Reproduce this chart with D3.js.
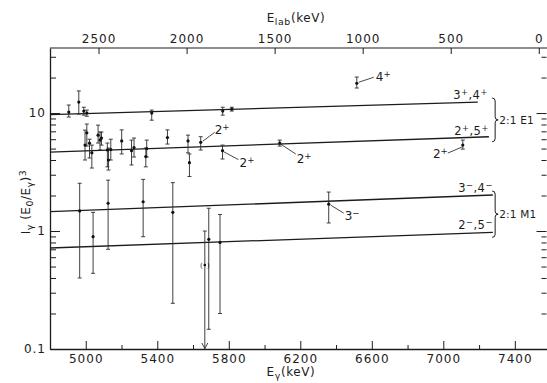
<!DOCTYPE html>
<html>
<head>
<meta charset="utf-8">
<script src="https://cdn.jsdelivr.net/npm/d3@7"></script>
<style>
  body { margin: 0; background: #fff; }
  svg text { font-family: "DejaVu Sans", sans-serif; fill: #1c1c1c; }
</style>
</head>
<body>
<svg id="chart" width="547" height="383"></svg>
<script>
// E1 (positive parity) lines: E_gamma (keV), value, error bar low/high
const e1Energy = [4905, 4961, 4989, 5006, 5369, 5766, 5817, 6516, 4996, 5006, 5021, 5034, 5069, 5080, 5088, 5121, 5127, 5140, 5201, 5256, 5270, 5336, 5341, 5457, 5572, 5580, 5643, 5765, 6085, 7109];
const e1Value  = [10.2, 12.4, 10.4, 10.0, 10.0, 10.4, 10.8, 17.9, 5.35, 6.8, 5.55, 4.6, 6.5, 5.9, 6.14, 4.86, 4.0, 4.9, 5.8, 4.8, 5.1, 4.28, 5.0, 6.2, 5.8, 3.8, 5.65, 4.8, 5.57, 5.35];
const e1Low    = [9.25, 9.8, 9.6, 9.4, 8.7, 9.6, 10.4, 16.3, 4.0, 5.25, 4.16, 3.42, 5.57, 4.86, 5.35, 3.5, 3.29, 4.0, 4.5, 3.63, 4.24, 3.5, 4.24, 5.46, 4.6, 2.9, 4.86, 4.08, 5.25, 4.95];
const e1High   = [11.7, 15.4, 11.2, 10.6, 10.6, 11.2, 11.2, 20.2, 7.17, 8.07, 6.0, 5.35, 7.9, 6.9, 6.9, 5.57, 5.05, 6.0, 7.2, 5.9, 6.14, 5.05, 5.9, 7.2, 6.5, 4.5, 6.3, 5.35, 5.9, 5.9];

// M1 (negative parity) lines
const m1Energy = [4966, 5041, 5125, 5321, 5487, 5688, 5751, 6359];
const m1Value  = [1.48, 0.895, 1.72, 1.77, 1.44, 0.85, 0.80, 1.69];
const m1Low    = [0.40, 0.438, 0.70, 0.895, 0.244, 0.147, 0.20, 1.17];
const m1High   = [2.54, 1.44, 2.7, 2.74, 2.57, 1.56, 1.38, 2.14];

// upper limit point (value in brackets, arrow down)
const limitEnergy = [5666];
const limitValue  = [0.515];
const limitHigh   = [1.0];

// 2:1 fit lines
const fitNames  = ["3^+,4^+", "2^+,5^+", "3^−,4^−", "2^−,5^−"];
const fitStartE = [4800, 4800, 4800, 4800];
const fitEndE   = [7193, 7255, 7277, 7277];
const fitStartV = [9.7, 4.67, 1.46, 0.718];
const fitEndV   = [12.4, 6.3, 2.02, 0.975];
const bracketNames = ["2:1 E1", "2:1 M1"];

// axes
const bottomTicks = [5000, 5400, 5800, 6200, 6600, 7000, 7400];
const bottomMinor = [5200, 5600, 6000, 6400, 6800, 7200];
const topTicks = [2500, 2000, 1500, 1000, 500, 0];
const yLabels = [0.1, 1, 10];
// E_gamma = Q - k * E_lab
const kinQ = 7534, kinK = 0.985;

const svg = d3.select('#chart');
const x = d3.scaleLinear().domain([4800, 7580]).range([50, 547]);
const y = d3.scaleLog().domain([0.1, 35.6]).range([349, 48]);
const xTop = d3.scaleLinear().domain([0, 2500]).range([x(kinQ), x(kinQ - kinK * 2500)]);
const ink = '#1c1c1c';

// text with ^x superscripts and _x / _{xx} subscripts
function rich(sel, str, size) {
  let i = 0;
  while (i < str.length) {
    const c = str[i];
    if (c === '^' || c === '_') {
      let s;
      if (str[i + 1] === '{') { const j = str.indexOf('}', i); s = str.slice(i + 2, j); i = j + 1; }
      else { s = str[i + 1]; i += 2; }
      sel.append('tspan')
        .attr('baseline-shift', c === '^' ? '45%' : '-30%')
        .attr('font-size', size * 0.72)
        .text(s);
    } else {
      let j = i;
      while (j < str.length && str[j] !== '^' && str[j] !== '_') j++;
      sel.append('tspan').text(str.slice(i, j));
      i = j;
    }
  }
  return sel;
}

function styleAxis(g) {
  g.selectAll('path, line').attr('stroke', ink);
  g.selectAll('text').attr('font-family', '"DejaVu Sans", sans-serif')
    .attr('font-size', 12).attr('letter-spacing', 1).attr('fill', ink);
}

// log ticks
const logMinor = [];
[0.1, 1, 10].forEach(p => d3.range(2, 10).forEach(d => {
  const v = +(d * p).toPrecision(2);
  if (v <= 35) logMinor.push(v);
}));

// bottom axis
svg.append('g').attr('transform', 'translate(0,349)')
  .call(d3.axisBottom(x).tickValues(bottomTicks).tickSizeInner(-8).tickSizeOuter(0).tickPadding(5).tickFormat(d3.format('d')))
  .call(styleAxis).call(g => g.select('.domain').attr('stroke-width', 1.3));
svg.append('g').attr('transform', 'translate(0,349)')
  .call(d3.axisBottom(x).tickValues(bottomMinor).tickSizeInner(-4).tickSizeOuter(0).tickFormat(''))
  .call(styleAxis).call(g => g.select('.domain').remove());

// top axis (E_lab)
svg.append('g').attr('transform', 'translate(0,48)')
  .call(d3.axisTop(xTop).tickValues(topTicks).tickSizeInner(-6).tickSizeOuter(0).tickPadding(5).tickFormat(d3.format('d')))
  .call(styleAxis).call(g => g.select('.domain').remove());
svg.append('line').attr('x1', x.range()[0]).attr('x2', x.range()[1])
  .attr('y1', 48).attr('y2', 48).attr('stroke', ink).attr('stroke-width', 1.2);

// left axis
svg.append('g').attr('transform', 'translate(50,0)')
  .call(d3.axisLeft(y).tickValues(yLabels).tickSizeInner(-10).tickSizeOuter(0).tickPadding(4)
    .tickFormat(d => d < 1 ? '0.1' : String(d)))
  .call(styleAxis).call(g => g.select('.domain').attr('stroke-width', 1.3));
svg.append('g').attr('transform', 'translate(50,0)')
  .call(d3.axisLeft(y).tickValues(logMinor).tickSizeInner(-6).tickSizeOuter(0).tickFormat(''))
  .call(styleAxis).call(g => g.select('.domain').remove());

// right side ticks
svg.append('g').attr('transform', 'translate(546.5,0)')
  .call(d3.axisRight(y).tickValues([1, 10]).tickSizeInner(-10).tickSizeOuter(0).tickFormat(''))
  .call(styleAxis).call(g => g.select('.domain').remove());
svg.append('g').attr('transform', 'translate(546.5,0)')
  .call(d3.axisRight(y).tickValues(logMinor.filter(v => v >= 0.2)).tickSizeInner(-5).tickSizeOuter(0).tickFormat(''))
  .call(styleAxis).call(g => g.select('.domain').remove());

// axis titles
rich(svg.append('text').attr('x', 296).attr('y', 22).attr('text-anchor', 'middle')
  .attr('font-size', 12).attr('letter-spacing', 0.6), 'E_{lab}(keV)', 13);
rich(svg.append('text').attr('x', 291).attr('y', 376).attr('text-anchor', 'middle')
  .attr('font-size', 12).attr('letter-spacing', 0.6), 'E_γ(keV)', 13);
rich(svg.append('text').attr('transform', 'translate(30,202) rotate(-90)').attr('text-anchor', 'middle')
  .attr('font-size', 12).attr('letter-spacing', 0.5), 'I_γ (E_0/E_γ)^3', 13);

// fit lines
const fits = fitNames.map((n, i) => ({ n, e0: fitStartE[i], e1: fitEndE[i], v0: fitStartV[i], v1: fitEndV[i] }));
svg.append('g').selectAll('line').data(fits).join('line')
  .attr('x1', d => x(d.e0)).attr('y1', d => y(d.v0))
  .attr('x2', d => x(d.e1)).attr('y2', d => y(d.v1))
  .attr('stroke', ink).attr('stroke-width', 1.3);

const fitLabelDx = [10, 0, 0, 0];
const fitLabelDy = [-3, -2, -3, -3];
fits.forEach((d, i) => {
  rich(svg.append('text').attr('x', x(d.e1) + fitLabelDx[i]).attr('y', y(d.v1) + fitLabelDy[i])
    .attr('text-anchor', 'end').attr('font-size', 11.5).attr('letter-spacing', 0.5), d.n, 11.5);
});

// brackets
[[0, 1], [2, 3]].forEach((pair, b) => {
  const a = fits[pair[0]], c = fits[pair[1]];
  const bx = x(7290);
  const top = y(a.v1) - 4, bot = y(c.v1) + 5, mid = (top + bot) / 2;
  svg.append('path')
    .attr('d', `M${bx - 3},${top} Q${bx},${top} ${bx},${top + 3} L${bx},${mid - 3} Q${bx},${mid} ${bx + 3},${mid} Q${bx},${mid} ${bx},${mid + 3} L${bx},${bot - 3} Q${bx},${bot} ${bx - 3},${bot}`)
    .attr('fill', 'none').attr('stroke', ink).attr('stroke-width', 1);
  svg.append('text').attr('x', bx + 4).attr('y', mid + 4).attr('font-size', 10.5)
    .attr('letter-spacing', 0.2).text(bracketNames[b]);
});

// data points with error bars
const pts = e1Energy.map((e, i) => ({ e, v: e1Value[i], lo: e1Low[i], hi: e1High[i] }))
  .concat(m1Energy.map((e, i) => ({ e, v: m1Value[i], lo: m1Low[i], hi: m1High[i] })));
const pg = svg.append('g').attr('stroke', '#2a2a2a').attr('stroke-width', 0.9);
pts.forEach(d => {
  const px = x(d.e);
  pg.append('line').attr('x1', px).attr('x2', px).attr('y1', y(d.lo)).attr('y2', y(d.hi));
  pg.append('line').attr('x1', px - 2).attr('x2', px + 2).attr('y1', y(d.lo)).attr('y2', y(d.lo));
  pg.append('line').attr('x1', px - 2).attr('x2', px + 2).attr('y1', y(d.hi)).attr('y2', y(d.hi));
});
svg.append('g').selectAll('circle').data(pts).join('circle')
  .attr('cx', d => x(d.e)).attr('cy', d => y(d.v)).attr('r', 1.6).attr('fill', '#111');

// upper limit
limitEnergy.forEach((e, i) => {
  const px = x(e), base = y.range()[0];
  pg.append('line').attr('x1', px).attr('x2', px).attr('y1', y(limitHigh[i])).attr('y2', base);
  pg.append('line').attr('x1', px - 2).attr('x2', px + 2).attr('y1', y(limitHigh[i])).attr('y2', y(limitHigh[i]));
  pg.append('path').attr('d', `M${px - 3},${base - 6} L${px},${base - 0.5} L${px + 3},${base - 6}`).attr('fill', 'none');
  svg.append('circle').attr('cx', px).attr('cy', y(limitValue[i])).attr('r', 1.3).attr('fill', '#111');
  svg.append('text').attr('x', px - 3.5).attr('y', y(limitValue[i]) + 2.5).attr('font-size', 7).attr('text-anchor', 'middle').text('(');
  svg.append('text').attr('x', px + 3.5).attr('y', y(limitValue[i]) + 2.5).attr('font-size', 7).attr('text-anchor', 'middle').text(')');
});

// level labels with leaders: [text, series, index, leader dx1, dy1, dx2, dy2, text dx, dy, anchor]
const notes = [
  ['4^+', 'e1', 7, 2, -1, 17, -6, 19, -2, 'start'],
  ['2^+', 'e1', 26, 2, -1, 14, -10, 14, -8, 'start'],
  ['2^+', 'e1', 27, 1, 1, 16, 9, 17, 16, 'start'],
  ['2^+', 'e1', 28, 1, 1, 16, 11, 17, 20, 'start'],
  ['2^+', 'e1', 29, -1, 2, -15, 8, -15, 13, 'end'],
  ['3^−', 'm1', 7, 2, 1, 15, 9, 16, 16, 'start']
];
notes.forEach(n => {
  const E = n[1] === 'e1' ? e1Energy : m1Energy;
  const V = n[1] === 'e1' ? e1Value : m1Value;
  const px = x(E[n[2]]), py = y(V[n[2]]);
  svg.append('line').attr('x1', px + n[3]).attr('y1', py + n[4]).attr('x2', px + n[5]).attr('y2', py + n[6])
    .attr('stroke', ink).attr('stroke-width', 0.8);
  rich(svg.append('text').attr('x', px + n[7]).attr('y', py + n[8]).attr('text-anchor', n[9])
    .attr('font-size', 12), n[0], 12);
});
</script>
</body>
</html>
